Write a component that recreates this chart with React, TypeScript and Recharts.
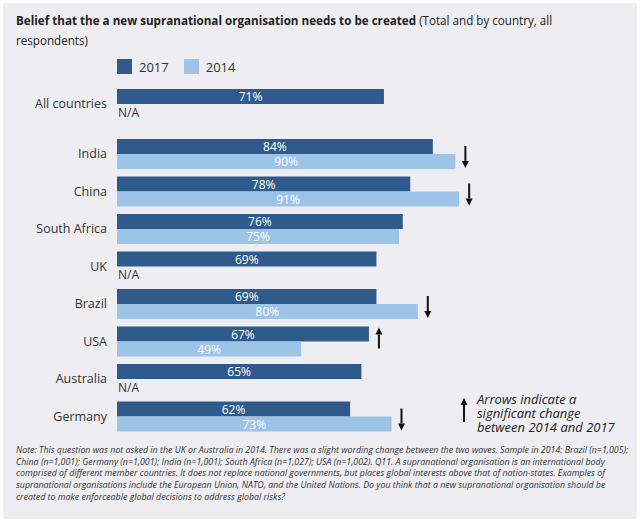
import { BarChart, Bar, XAxis, YAxis, LabelList } from "recharts";

// overall row
const totalCategory = ["All countries"];
const total2017 = [71];
const total2014: (number | null)[] = [null];
const totalChange: (string | null)[] = [null];

// by country
const countries = ["India", "China", "South Africa", "UK", "Brazil", "USA", "Australia", "Germany"];
const values2017 = [84, 78, 76, 69, 69, 67, 65, 62];
const values2014: (number | null)[] = [90, 91, 75, null, 80, 49, null, 73];
const changes: (string | null)[] = ["down", "down", null, null, "down", "up", null, "down"];

const seriesNames = ["2017", "2014"];
const COLORS = ["#2f5b8c", "#9dc3e6"];

const FONT = "'Open Sans', sans-serif";
const TEXT = "#333";

type Row = { name: string; v17: number; v14: number | null; change: string | null };

function buildRows(names: string[], a: number[], b: (number | null)[], c: (string | null)[]): Row[] {
  return names.map((name, i) => ({ name, v17: a[i], v14: b[i], change: c[i] }));
}

function Arrow({ x, top, bottom, up }: { x: number; top: number; bottom: number; up: boolean }) {
  const tip = up ? top : bottom;
  const base = up ? top + 7 : bottom - 7;
  return (
    <g>
      <line x1={x} x2={x} y1={up ? base : top} y2={up ? bottom : base} stroke="#111" strokeWidth={2} />
      <polygon points={`${x - 3.5},${base} ${x + 3.5},${base} ${x},${tip}`} fill="#111" />
    </g>
  );
}

function label2017(p: any, rows: Row[]) {
  const { x, y, width, height, index } = p;
  const row = rows[index];
  if (!row) return null;
  const cx = x + width / 2;
  const cy = y + height / 2;
  let arrow = null;
  if (row.change) {
    const end = x + (width * Math.max(row.v17, row.v14 ?? 0)) / row.v17 + 10;
    const up = row.change === "up";
    arrow = up ? (
      <Arrow x={end} top={y + 1} bottom={y + 22} up />
    ) : (
      <Arrow x={end} top={y + 7} bottom={y + 2 * height - 1} up={false} />
    );
  }
  return (
    <g>
      <text x={cx} y={cy} fill="#fff" fontSize={12} textAnchor="middle" dominantBaseline="central">
        {row.v17}%
      </text>
      {row.v14 == null && (
        <text x={x + 1} y={y + height + 8} fill={TEXT} fontSize={12} dominantBaseline="central">
          N/A
        </text>
      )}
      {arrow}
    </g>
  );
}

function label2014(p: any) {
  const { x, y, width, height, value } = p;
  if (value == null) return null;
  return (
    <text x={x + width / 2} y={y + height / 2} fill="#fff" fontSize={12} textAnchor="middle" dominantBaseline="central">
      {value}%
    </text>
  );
}

function Chart({ rows, height }: { rows: Row[]; height: number }) {
  return (
    <BarChart
      width={640}
      height={height}
      data={rows}
      layout="vertical"
      barGap={0}
      margin={{ top: 0, right: 147, bottom: 0, left: 0 }}
      style={{ fontFamily: FONT }}
    >
      <XAxis type="number" domain={[0, 100]} hide />
      <YAxis
        type="category"
        dataKey="name"
        width={117}
        axisLine={false}
        tickLine={false}
        tickMargin={4}
        tick={{ fill: TEXT, fontSize: 12.5 }}
      />
      <Bar dataKey="v17" name={seriesNames[0]} fill={COLORS[0]} barSize={15} isAnimationActive={false}>
        <LabelList dataKey="v17" content={(p: any) => label2017(p, rows)} />
      </Bar>
      <Bar dataKey="v14" name={seriesNames[1]} fill={COLORS[1]} barSize={15} isAnimationActive={false}>
        <LabelList dataKey="v14" content={label2014} />
      </Bar>
    </BarChart>
  );
}

export default function App() {
  const totalRows = buildRows(totalCategory, total2017, total2014, totalChange);
  const countryRows = buildRows(countries, values2017, values2014, changes);

  return (
    <div style={{ position: "absolute", left: 0, top: 0, width: 640, height: 524, background: "#fff", fontFamily: FONT, color: TEXT }}>
      <div style={{ position: "absolute", left: 3, top: 3, width: 634, height: 516, background: "#eeeef2" }} />

      <div
        style={{
          position: "absolute",
          left: 16,
          top: 10,
          fontSize: 13,
          lineHeight: "20px",
          color: "#222",
          whiteSpace: "nowrap",
          transform: "scaleX(0.895)",
          transformOrigin: "0 0",
        }}
      >
        <b>Belief that the a new supranational organisation needs to be created</b> (Total and by country, all
        <br />
        respondents)
      </div>

      <div style={{ position: "absolute", left: 117, top: 59, height: 15, display: "flex", alignItems: "center", fontSize: 13 }}>
        {seriesNames.map((s, i) => (
          <div key={s} style={{ display: "flex", alignItems: "center", marginRight: 15 }}>
            <span style={{ width: 15, height: 15, background: COLORS[i], display: "inline-block", marginRight: 7 }} />
            <span>{s}</span>
          </div>
        ))}
      </div>

      <div style={{ position: "absolute", left: 0, top: 85 }}>
        <Chart rows={totalRows} height={38} />
      </div>
      <div style={{ position: "absolute", left: 0, top: 134.5 }}>
        <Chart rows={countryRows} height={300} />
      </div>

      <svg style={{ position: "absolute", left: 455, top: 395 }} width={20} height={30}>
        <Arrow x={9} top={3} bottom={27} up />
      </svg>
      <div style={{ position: "absolute", left: 477, top: 392, fontSize: 13, lineHeight: "14px", fontStyle: "italic", color: "#222" }}>
        Arrows indicate a
        <br />
        significant change
        <br />
        between 2014 and 2017
      </div>

      <div
        style={{
          position: "absolute",
          left: 16,
          top: 444,
          fontSize: 9.5,
          lineHeight: "11.7px",
          fontStyle: "italic",
          color: "#333",
          whiteSpace: "nowrap",
          transform: "scaleX(0.93)",
          transformOrigin: "0 0",
        }}
      >
        Note: This question was not asked in the UK or Australia in 2014. There was a slight wording change between the two waves. Sample in 2014: Brazil (n=1,005);
        <br />
        China (n=1,001); Germany (n=1,001); India (n=1,001); South Africa (n=1,027); USA (n=1,002). Q11. A supranational organisation is an international body
        <br />
        comprised of different member countries. It does not replace national governments, but places global interests above that of nation-states. Examples of
        <br />
        supranational organisations include the European Union, NATO, and the United Nations. Do you think that a new supranational organisation should be
        <br />
        created to make enforceable global decisions to address global risks?
      </div>
    </div>
  );
}
